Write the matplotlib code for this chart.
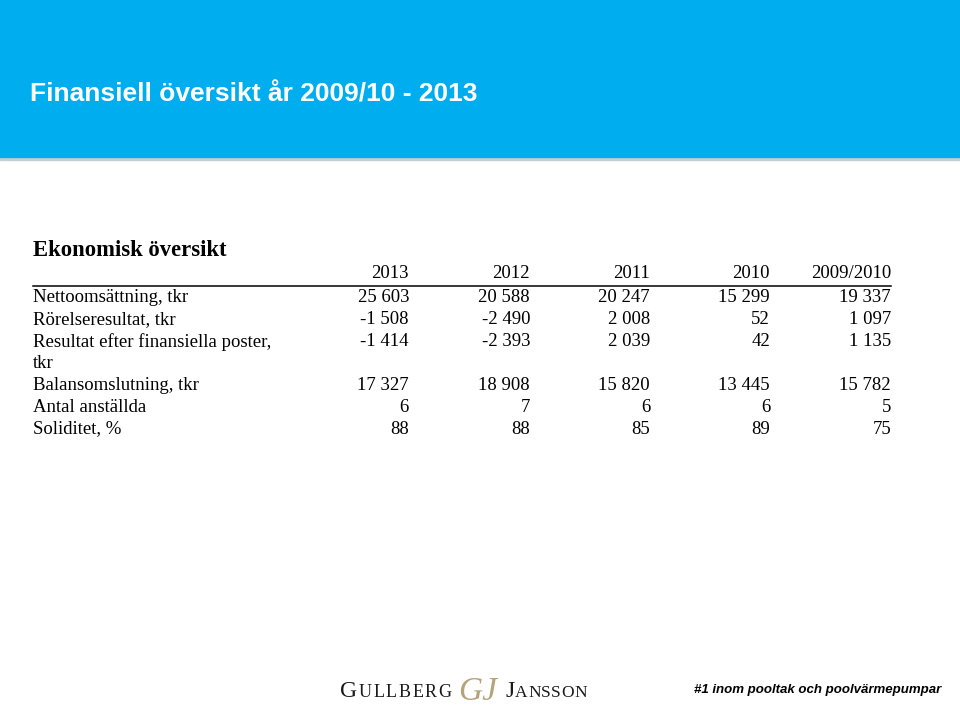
import matplotlib
matplotlib.use("Agg")
from matplotlib import pyplot as plt
from matplotlib.patches import Rectangle

title = "Finansiell översikt år 2009/10 - 2013"
table_title = "Ekonomisk översikt"
years = ["2013", "2012", "2011", "2010", "2009/2010"]
row_labels = ["Nettoomsättning, tkr", "Rörelseresultat, tkr",
              "Resultat efter finansiella poster,\ntkr",
              "Balansomslutning, tkr", "Antal anställda", "Soliditet, %"]
nettoomsattning = [25603, 20588, 20247, 15299, 19337]
rorelseresultat = [-1508, -2490, 2008, 52, 1097]
resultat_fin = [-1414, -2393, 2039, 42, 1135]
balansomslutning = [17327, 18908, 15820, 13445, 15782]
antal_anstallda = [6, 7, 6, 6, 5]
soliditet = [88, 88, 85, 89, 75]
rows = [nettoomsattning, rorelseresultat, resultat_fin,
        balansomslutning, antal_anstallda, soliditet]
footer = "#1 inom pooltak och poolvärmepumpar"


def fmt(v):
    return f"{v:,}".replace(",", " ")


W, H = 960, 717
fig = plt.figure(figsize=(W / 100, H / 100), dpi=100)
ax = fig.add_axes([0, 0, 1, 1])
ax.set_xlim(0, W)
ax.set_ylim(H, 0)
ax.axis("off")
renderer = fig.canvas.get_renderer()

# header band with a thin grey shadow under it
ax.add_patch(Rectangle((0, 0), W, 157, color="#00AEEF", zorder=2))
ax.add_patch(Rectangle((0, 157), W, 3, color="#C8CDD2", zorder=1))
ax.text(30, 94, title, color="white", fontsize=19, fontweight="bold",
        family="Liberation Sans", va="center", ha="left")

serif = "Liberation Serif"
fs = 13.5
ax.text(33, 251, table_title, fontsize=16.3, fontweight="bold", family=serif,
        va="center", ha="left")

col_right = [409, 530, 650, 770, 891]
for x, y in zip(col_right, years):
    ax.text(x, 273, y, fontsize=fs, family=serif, va="center", ha="right")
ax.plot([33, 891], [285.5, 285.5], color="black", lw=1.1)

row_y = [298, 320, 342, 385, 407, 429]
for y, lab, vals in zip(row_y, row_labels, rows):
    # wrapped labels: one text per line, 21 px apart
    for i, line in enumerate(lab.split("\n")):
        ax.text(33, y + 21 * i, line, fontsize=fs, family=serif, va="center", ha="left")
    for x, v in zip(col_right, vals):
        ax.text(x, y, fmt(v), fontsize=fs, family=serif, va="center", ha="right")


def put(x, y, s, track=0.0, **kw):
    # place text letter by letter with extra tracking, return end x
    for ch in s:
        t = ax.text(x, y, ch, va="baseline", ha="left", **kw)
        x += t.get_window_extent(renderer).width + track
    return x


# logo
base = 697
ink = "#1a1a1a"
x = put(340, base, "G", fontsize=17, family=serif, color=ink)
x = put(x + 1.5, base, "ULLBERG", track=1.6, fontsize=13, family=serif, color=ink)
ax.text(478, 692, "GJ", fontsize=24, family=serif, style="italic", va="center",
        ha="center", color="#B5A37A")
x = put(505, base, "J", fontsize=17, family=serif, color=ink)
x = put(x + 1, base, "ANSSON", track=0.3, fontsize=12.5, family=serif, color=ink)

ax.text(941, 690, footer, fontsize=9.5, fontweight="bold", style="italic",
        family="Liberation Sans", va="center", ha="right")

fig.savefig("out.png", dpi=100)
